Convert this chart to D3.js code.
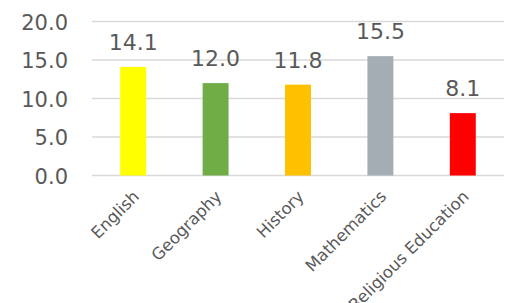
<!DOCTYPE html>
<html>
<head>
<meta charset="utf-8">
<script src="https://cdn.jsdelivr.net/npm/d3@7"></script>
<style>
  body { margin: 0; background: #fff; }
  text { font-family: "DejaVu Sans", Verdana, sans-serif; fill: #595959; }
</style>
</head>
<body>
<div id="chart"></div>
<script>
// Chart size.
const WIDTH = 511;
const HEIGHT = 303;
const M = { top: 21.5, right: 7, bottom: 127.5, left: 92 };

// Data.
const subjects = ["English", "Geography", "History", "Mathematics", "Religious Education"];
const scores = [14.1, 12.0, 11.8, 15.5, 8.1];
const barColors = ["#ffff00", "#70ad47", "#ffc000", "#a5adb4", "#ff0000"];
const yTicks = [0, 5, 10, 15, 20];

const svg = d3
  .select("#chart")
  .append("svg")
  .attr("width", WIDTH)
  .attr("height", HEIGHT);

const x = d3
  .scaleBand()
  .domain(subjects)
  .range([M.left, WIDTH - M.right])
  .paddingInner(0.685)
  .paddingOuter(0.3425);

const y = d3
  .scaleLinear()
  .domain([0, 20])
  .range([HEIGHT - M.bottom, M.top]);

// Gridlines.
svg
  .append("g")
  .selectAll("line")
  .data(yTicks)
  .enter()
  .append("line")
  .attr("x1", M.left)
  .attr("x2", WIDTH - M.right)
  .attr("y1", (d) => y(d))
  .attr("y2", (d) => y(d))
  .style("stroke", "#d9d9d9")
  .style("stroke-width", 1.5);

// Y axis labels.
const yAxis = svg
  .append("g")
  .attr("transform", "translate(" + (M.left - 24) + ",0)")
  .call(d3.axisLeft(y).tickValues(yTicks).tickFormat(d3.format(".1f")).tickSize(0));
yAxis.select(".domain").remove();
yAxis
  .selectAll("text")
  .attr("x", 0)
  .attr("dy", "0.36em")
  .style("font-size", "21px")
  .style("font-family", null);

// Bars.
svg
  .append("g")
  .selectAll("rect")
  .data(subjects)
  .enter()
  .append("rect")
  .attr("x", (d) => x(d))
  .attr("width", x.bandwidth())
  .attr("y", (d, i) => y(scores[i]))
  .attr("height", (d, i) => y(0) - y(scores[i]))
  .style("fill", (d, i) => barColors[i]);

// Value labels.
svg
  .append("g")
  .selectAll("text")
  .data(subjects)
  .enter()
  .append("text")
  .attr("x", (d) => x(d) + x.bandwidth() / 2)
  .attr("y", (d, i) => y(scores[i]) - 17)
  .attr("text-anchor", "middle")
  .style("font-size", "22px")
  .text((d, i) => d3.format(".1f")(scores[i]));

// X axis labels, rotated.
const xAxis = svg
  .append("g")
  .attr("transform", "translate(0," + y(0) + ")")
  .call(d3.axisBottom(x).tickSize(0));
xAxis.select(".domain").remove();
xAxis
  .selectAll("text")
  .attr("text-anchor", "end")
  .attr("dy", null)
  .attr("y", 0)
  .attr("transform", "translate(7,22) rotate(-45)")
  .style("font-size", "16.5px")
  .style("font-family", null);
</script>
</body>
</html>
